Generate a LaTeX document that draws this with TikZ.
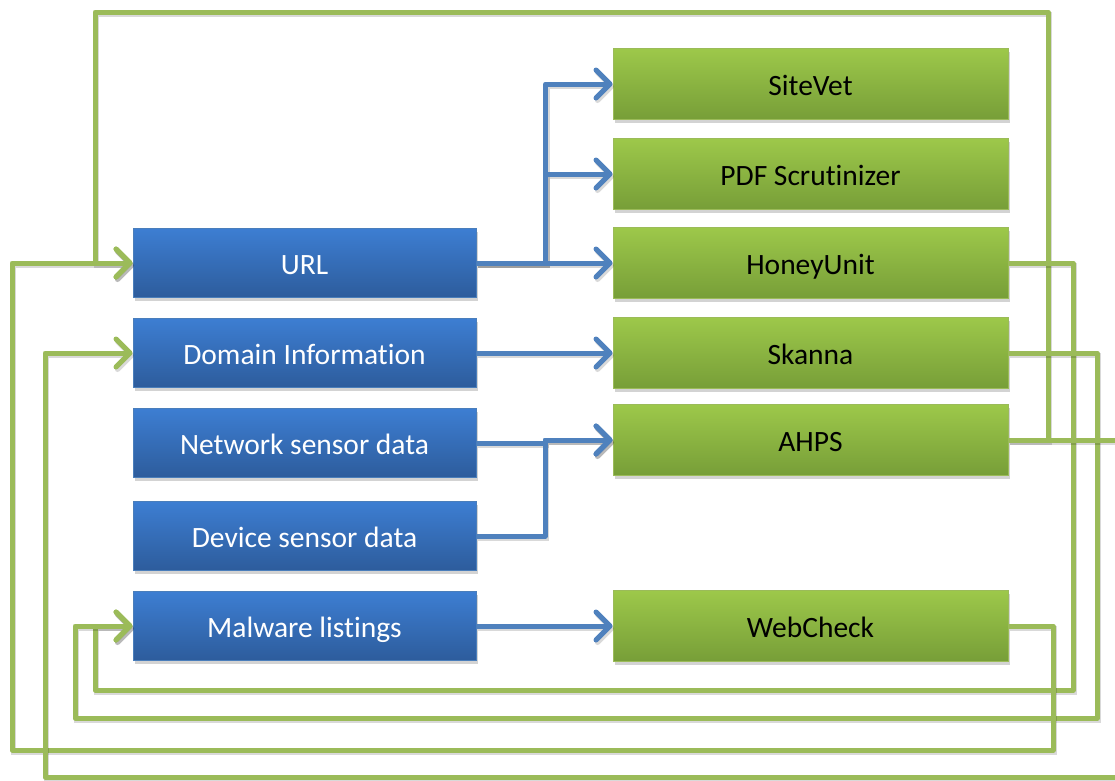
\documentclass[tikz,border=0pt]{standalone}
\usepackage{fontspec}
\setmainfont{Carlito}[Ligatures=NoCommon]
\usetikzlibrary{arrows.meta,shadows}

\definecolor{bluetop}{HTML}{3D7ED2}
\definecolor{bluebot}{HTML}{2D5C9C}
\definecolor{blueedge}{HTML}{4A7EBB}
\definecolor{greentop}{HTML}{9DC84A}
\definecolor{greenbot}{HTML}{779E38}
\definecolor{greenedge}{HTML}{9BBB59}
\definecolor{blueline}{HTML}{4F81BD}
\definecolor{greenline}{HTML}{9BBB59}

\tikzset{
  box/.style={minimum width=343pt, minimum height=69pt, inner sep=0pt,
    text height=25pt, text depth=2pt,
    line width=1pt, font=\fontsize{29.5}{33}\selectfont,
    drop shadow={shadow xshift=1.5pt, shadow yshift=-3pt, opacity=0.35}},
  srcbox/.style={box, draw=blueedge, top color=bluetop, bottom color=bluebot, text=white},
  toolbox/.style={box, minimum width=395pt, minimum height=71pt, draw=greenedge, top color=greentop, bottom color=greenbot, text=black},
  lineshade/.style={preaction={draw=black, draw opacity=0.15, line width=5pt,
    transform canvas={xshift=1.5pt, yshift=-2.5pt}}},
  bl/.style={draw=blueline, line width=5pt, line join=round, lineshade},
  gl/.style={draw=greenline, line width=5pt, line join=round, lineshade},
  tip/.style={-{Straight Barb[length=14pt, width=28pt, line width=5pt, round]}}
}

\begin{document}
\begin{tikzpicture}[x=1pt, y=-1pt]
\useasboundingbox (0,0) rectangle (1115,780);
\clip (0,0) rectangle (1115,780);

% input data sources
\node[srcbox] (url) at (304.5,263) {URL};
\node[srcbox] (dom) at (304.5,353) {Domain Information};
\node[srcbox] (net) at (304.5,443) {Network sensor data};
\node[srcbox] (dev) at (304.5,536) {Device sensor data};
\node[srcbox] (mal) at (304.5,626) {Malware listings};

% analysis tools
\node[toolbox] (sv)   at (810.5,84)  {SiteVet};
\node[toolbox] (pdf)  at (810.5,174) {PDF Scrutinizer};
\node[toolbox] (hu)   at (810.5,263) {HoneyUnit};
\node[toolbox] (sk)   at (810.5,353) {Skanna};
\node[toolbox] (ahps) at (810.5,440) {AHPS};
\node[toolbox] (wc)   at (810.5,626) {WebCheck};

% routing points for the feedback loops
\coordinate (topR)  at (1048,12);
\coordinate (topL)  at (95,263);
\coordinate (huR)   at (1073,690);
\coordinate (huL)   at (95,626);
\coordinate (skR)   at (1097,718);
\coordinate (skL)   at (75,626);
\coordinate (wcR)   at (1053,750);
\coordinate (wcL)   at (12,263);
\coordinate (ahR)   at (1130,777);
\coordinate (ahL)   at (45,353);
\coordinate (fork)  at (545,440);

% feedback loops from the tools back to the sources
\draw[gl,tip] (ahps.east) -| (topR) -| (topL) -- (url.west);
\draw[gl,tip] (hu.east) -| (huR) -| (huL) -- (mal.west);
\draw[gl,tip] (sk.east) -| (skR) -| (skL) -- (mal.west);
\draw[gl,tip] (wc.east) -| (wcR) -| (wcL) -- (url.west);
\draw[gl,tip] (ahps.east) -| (ahR) -| (ahL) -- (dom.west);

% data flow from sources to tools
\draw[bl,tip] (url.east) -- ++(69,0) |- (sv.west);
\draw[bl,tip] (url.east) -- ++(69,0) |- (pdf.west);
\draw[bl,tip] (url.east) -- (hu.west);
\draw[bl,tip] (dom.east) -- (sk.west);
\draw[bl,tip] (net.east) -| (fork) -- (ahps.west);
\draw[bl,tip] (dev.east) -| (fork) -- (ahps.west);
\draw[bl,tip] (mal.east) -- (wc.west);
\end{tikzpicture}
\end{document}
